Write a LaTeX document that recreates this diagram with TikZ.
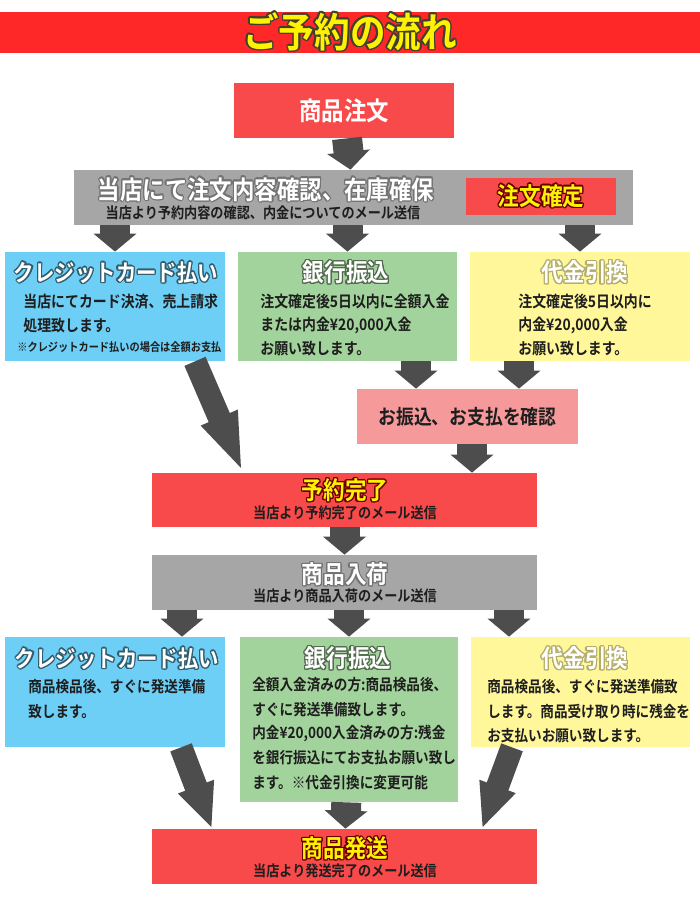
\documentclass[tikz,border=0pt]{standalone}
\usepackage{fontspec}
\setmainfont{Noto Sans CJK JP Bold}[FakeStretch=0.88]
\usepackage[copies]{contour}
\contourlength{0.7pt}
\contournumber{16}
\usetikzlibrary{arrows.meta}
\definecolor{barred}{HTML}{FF2828}
\definecolor{boxred}{HTML}{F84A4A}
\definecolor{boxgray}{HTML}{A6A6A6}
\definecolor{boxblue}{HTML}{6DCFF6}
\definecolor{boxgreen}{HTML}{A3D39C}
\definecolor{boxyellow}{HTML}{FFF799}
\definecolor{boxpink}{HTML}{F5999B}
\definecolor{arrowgray}{HTML}{4D4D4D}
\definecolor{hiyellow}{HTML}{FFF200}
\definecolor{ink}{HTML}{1E1E1E}
\newcommand{\px}{0.02cm}

\begin{document}
\begin{tikzpicture}[x=0.02cm,y=-0.02cm,
  box/.style 2 args={rectangle,inner sep=0,minimum width={#1*\px},minimum height={#2*\px}},
  ttl/.style={font=\fontsize{14}{16}\selectfont,inner sep=0},
  sub/.style={font=\fontsize{8.5}{10}\selectfont,inner sep=0,text=ink},
  txt/.style={font=\fontsize{9}{11}\selectfont,inner sep=0,anchor=west,text=ink},
  fat/.style={draw=arrowgray,line width=0.6cm,-{Triangle[length=0.36cm,width=0.84cm]}},
  slant/.style={draw=arrowgray,line width=0.46cm,-{Triangle[length=#1,width=0.7cm]}},
  slant/.default=1.2cm]
  \useasboundingbox (0,0) rectangle (700,900);
  \node[box={700}{41},fill=barred,font=\fontsize{23}{25}\selectfont,text=hiyellow]
    (bar) at (350,32.5) {\contourlength{0.9pt}\contour{black!70!olive}{ご予約の流れ}};
  \node[box={220}{55},fill=boxred,font=\fontsize{14.5}{16}\selectfont,text=white]
    (order) at (344,110.5) {商品注文};
  \node[box={559}{55},fill=boxgray] (confirm) at (353.5,197.5) {};
  \node[ttl,font=\fontsize{14.5}{16}\selectfont,text=white] (confirmttl) at (266,190)
    {\contour{black!55}{当店にて注文内容確認、在庫確保}};
  \node[sub] (confirmsub) at (263,213) {当店より予約内容の確認、内金についてのメール送信};
  \node[box={150}{37},fill=boxred,ttl,text=hiyellow] (fixed) at (541,196.5)
    {\contour{red!40!black}{注文確定}};

  \node[box={220}{109},fill=boxblue] (cc1) at (115,306.5) {};
  \node[box={219}{109},fill=boxgreen] (bank1) at (347.5,306.5) {};
  \node[box={220}{109},fill=boxyellow] (cod1) at (580,306.5) {};
  \node[ttl,font=\fontsize{13.2}{15}\selectfont,text=white] (cc1ttl) at (116,273)
    {\contour{boxblue!45!black}{クレジットカード払い}};
  \node[ttl,text=white] (bank1ttl) at (346,273) {\contour{boxgreen!50!black}{銀行振込}};
  \node[ttl,text=white] (cod1ttl) at (585,273) {\contour{boxyellow!70!black}{代金引換}};
  \foreach \i/\l in {0/当店にてカード決済、売上請求,1/処理致します。}
    {\node[txt] (cc1-\i) at (23,302+\i*23.5) {\l};}
  \node[txt,font=\fontsize{6.6}{8}\selectfont] (cc1note) at (17,347)
    {※クレジットカード払いの場合は全額お支払};
  \foreach \i/\l in {0/注文確定後5日以内に全額入金,1/{または内金¥20,000入金},2/お願い致します。}
    {\node[txt] (bank1-\i) at (260,302+\i*23.5) {\l};}
  \foreach \i/\l in {0/注文確定後5日以内に,1/{内金¥20,000入金},2/お願い致します。}
    {\node[txt] (cod1-\i) at (518,302+\i*23.5) {\l};}

  \node[box={221}{55},fill=boxpink,font=\fontsize{11.5}{13}\selectfont,text=ink]
    (paid) at (467.5,416.5) {お振込、お支払を確認};
  \node[box={385}{54},fill=boxred] (done) at (344.5,500) {};
  \node[ttl,text=hiyellow] (donettl) at (345,491) {\contour{red!40!black}{予約完了}};
  \node[sub] (donesub) at (345,513) {当店より予約完了のメール送信};
  \node[box={385}{55},fill=boxgray] (stock) at (344.5,582.5) {};
  \node[ttl,text=white] (stockttl) at (345,575) {\contour{black!55}{商品入荷}};
  \node[sub] (stocksub) at (345,596) {当店より商品入荷のメール送信};

  \node[box={220}{110},fill=boxblue] (cc2) at (115,692) {};
  \node[box={218}{165},fill=boxgreen] (bank2) at (349,719.5) {};
  \node[box={219}{110},fill=boxyellow] (cod2) at (580.5,692) {};
  \node[ttl,font=\fontsize{13.2}{15}\selectfont,text=white] (cc2ttl) at (117,659)
    {\contour{boxblue!45!black}{クレジットカード払い}};
  \node[ttl,text=white] (bank2ttl) at (348,659) {\contour{boxgreen!50!black}{銀行振込}};
  \node[ttl,text=white] (cod2ttl) at (585,659) {\contour{boxyellow!70!black}{代金引換}};
  \foreach \i/\l in {0/商品検品後、すぐに発送準備,1/致します。}
    {\node[txt,font=\fontsize{8.8}{10}\selectfont] (cc2-\i) at (28,687+\i*24.3) {\l};}
  \foreach \i/\l in {0/全額入金済みの方:商品検品後、,1/すぐに発送準備致します。,
      2/{内金¥20,000入金済みの方:残金},3/を銀行振込にてお支払お願い致し,
      4/ます。※代金引換に変更可能}
    {\node[txt,font=\fontsize{8.8}{10}\selectfont] (bank2-\i) at (252,685+\i*24.3) {\l};}
  \foreach \i/\l in {0/商品検品後、すぐに発送準備致,1/します。商品受け取り時に残金を,
      2/お支払いお願い致します。}
    {\node[txt,font=\fontsize{8.8}{10}\selectfont] (cod2-\i) at (487,687+\i*24.3) {\l};}

  \node[box={385}{55},fill=boxred] (ship) at (344.5,856.5) {};
  \node[ttl,text=hiyellow] (shipttl) at (345,849) {\contour{red!40!black}{商品発送}};
  \node[sub] (shipsub) at (345,871) {当店より発送完了のメール送信};

  \coordinate (g1) at (416,0);
  \coordinate (y1) at (519,0);
  \coordinate (p1) at (472,0);
  \coordinate (d1) at (195,0);
  \coordinate (d2) at (243,0);
  \coordinate (s1) at (182,0);
  \coordinate (s3) at (509,0);
  \coordinate (e1) at (181,0);
  \coordinate (e2) at (212,0);
  \coordinate (e3) at (512,0);
  \coordinate (e4) at (482,0);
  \draw[fat] (order) -- (confirm);
  \draw[fat] (confirm.south -| cc1.north) -- (cc1.north);
  \draw[fat] (confirm.south -| bank1.north) -- (bank1.north);
  \draw[fat] (confirm.south -| cod1.north) -- (cod1.north);
  \draw[fat] (bank1.south -| g1) -- (paid.north -| g1);
  \draw[fat] (cod1.south -| y1) -- (paid.north -| y1);
  \draw[fat] (paid.south -| p1) -- (done.north -| p1);
  \draw[slant] (cc1.south -| d1) -- (done.north -| d2);
  \draw[fat] (done) -- (stock);
  \draw[fat] (stock.south -| s1) -- (cc2.north -| s1);
  \draw[fat] (stock.south -| bank2.north) -- (bank2.north);
  \draw[fat] (stock.south -| s3) -- (cod2.north -| s3);
  \draw[slant=0.9cm] (cc2.south -| e1) -- (ship.north -| e2);
  \draw[fat] (bank2) -- (ship);
  \draw[slant=0.9cm] (cod2.south -| e3) -- (ship.north -| e4);
\end{tikzpicture}
\end{document}
